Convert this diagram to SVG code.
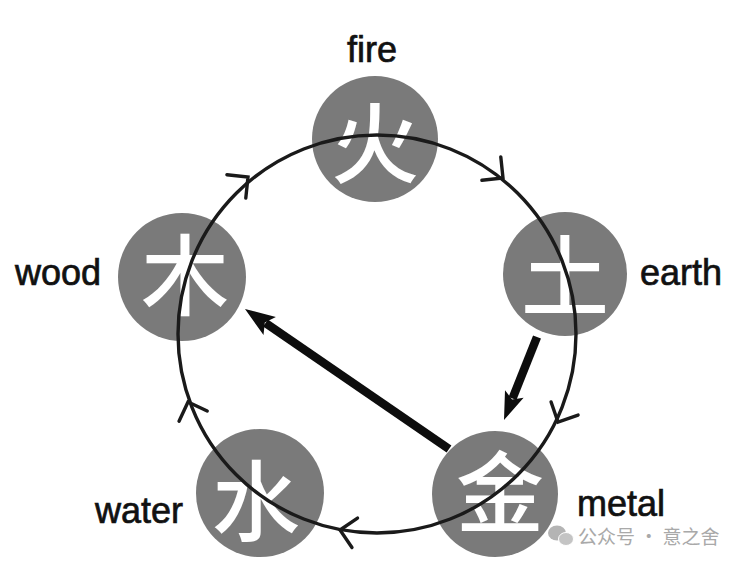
<svg xmlns="http://www.w3.org/2000/svg" width="746" height="562" viewBox="0 0 746 562">
<style>
.node{fill:#7a7a7a}
.ch{fill:#ffffff;font-family:"Noto Sans CJK SC","Noto Sans CJK JP",sans-serif;font-weight:500;font-size:88px;text-anchor:middle;dominant-baseline:central}
.lbl{fill:#111;stroke:#111;stroke-width:0.7;font-family:"Liberation Sans",Arial,sans-serif;font-size:36px}
.ring{fill:none;stroke:#1a1a1a;stroke-width:3.4}
.chev{fill:none;stroke:#1a1a1a;stroke-width:3.4;stroke-linecap:round;stroke-linejoin:miter}
.shaft{stroke:#0d0d0d;stroke-width:8.5;fill:none}
.head{fill:#0d0d0d}
.wm{fill:#a9a9a9;font-family:"Noto Sans CJK SC",sans-serif;font-size:19px}
</style>
<defs>
<path id="chev" d="M-15,-15 L0,0 L-15,15"/>
</defs>
<rect width="746" height="562" fill="#ffffff"/>
<g id="fire">
<circle class="node" cx="375" cy="139" r="63"/>
<text class="ch" x="375" y="137">火</text>
<text class="lbl" x="372" y="62" text-anchor="middle">fire</text>
</g>
<g id="earth">
<circle class="node" cx="565" cy="274" r="62"/>
<text class="ch" x="565" y="270">土</text>
<text class="lbl" x="722" y="285" text-anchor="end">earth</text>
</g>
<g id="metal">
<circle class="node" cx="495" cy="494" r="63"/>
<text class="ch" x="500" y="486">金</text>
<text class="lbl" x="577" y="516">metal</text>
</g>
<g id="water">
<circle class="node" cx="260" cy="493" r="64"/>
<text class="ch" x="256" y="495">水</text>
<text class="lbl" x="95" y="523">water</text>
</g>
<g id="wood">
<circle class="node" cx="182" cy="277" r="64"/>
<text class="ch" x="185" y="269">木</text>
<text class="lbl" x="15" y="285">wood</text>
</g>
<g id="connectors">
<circle class="ring" cx="377" cy="334" r="199"/>
<use href="#chev" class="chev" transform="translate(248,177) rotate(-39)"/>
<use href="#chev" class="chev" transform="translate(503,178) rotate(39)"/>
<use href="#chev" class="chev" transform="translate(558,422) rotate(116)"/>
<use href="#chev" class="chev" transform="translate(340,530) rotate(190.7)"/>
<use href="#chev" class="chev" transform="translate(188,402) rotate(250)"/>
<line class="shaft" x1="537" y1="337" x2="512.5" y2="398.5"/>
<path class="head" d="M504,420 L523.6,397.7 L512.1,399.6 L505,390.3 Z"/>
<line class="shaft" x1="449" y1="449" x2="265.5" y2="323"/>
<path class="head" d="M245,309 L275.9,316.9 L264.8,322.6 L263.5,335.1 Z"/>
</g>
<g id="watermark">
<ellipse cx="557" cy="533" rx="9" ry="7.5" fill="#b4b4b4"/>
<ellipse cx="566" cy="539" rx="7.5" ry="6.5" fill="#c4c4c4" stroke="#fff" stroke-width="1"/>
<text class="wm" x="578" y="544">公众号 · 意之舍</text>
</g>
</svg>
